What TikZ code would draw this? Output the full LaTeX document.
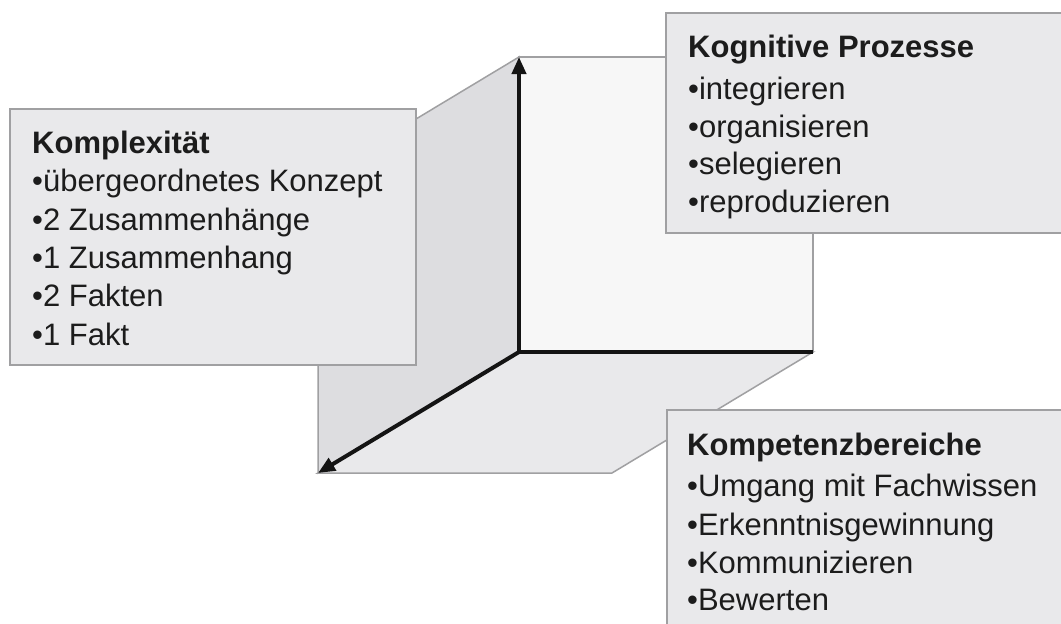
\documentclass[tikz,border=0pt]{standalone}
\usepackage{fontspec}
\setmainfont{Liberation Sans}
\usetikzlibrary{arrows.meta}
\definecolor{backwall}{RGB}{247,247,247}
\definecolor{leftwall}{RGB}{221,221,224}
\definecolor{floorface}{RGB}{233,233,235}
\definecolor{boxfill}{RGB}{233,233,235}
\definecolor{edgegray}{RGB}{160,160,162}
\definecolor{axisblack}{RGB}{20,20,20}
\definecolor{textblack}{RGB}{28,28,28}
\begin{document}
\begin{tikzpicture}[x=1pt,y=-1pt,
  face/.style={draw=edgegray,line width=1.5pt,line join=miter},
  infobox/.style={draw=edgegray,fill=boxfill,line width=1.8pt},
  axisline/.style={draw=axisblack,line width=4pt},
  tip/.style={-{Triangle[length=17pt,width=14pt]}},
  itemtext/.style={anchor=base west,inner sep=0pt,text=textblack,font=\fontsize{31}{37}\selectfont},
  headtext/.style={itemtext,font=\fontsize{31}{37}\selectfont\bfseries}]
\useasboundingbox (0,0) rectangle (1061,624);
\clip (0,0) rectangle (1061,624);
\fill[white] (0,0) rectangle (1061,624);
% cube corner
\coordinate (O) at (519,352);
\coordinate (T) at (519,57);
\coordinate (TL) at (318,178);
\coordinate (L) at (318,473);
\coordinate (R) at (813,352);
\coordinate (TR) at (813,57);
\coordinate (FR) at (612,473);
\filldraw[face,fill=backwall] (T) -- (TR) -- (R) -- (O) -- cycle;
\filldraw[face,fill=leftwall] (T) -- (O) -- (L) -- (TL) -- cycle;
\filldraw[face,fill=floorface] (O) -- (R) -- (FR) -- (L) -- cycle;
% axes
\draw[axisline,tip] (R) -- (O) -- (T);
\draw[axisline,tip] (O) -- (L);
% boxes
\filldraw[infobox] (10,109) rectangle (416,365);
\filldraw[infobox] (666,13) rectangle (1080,233);
\filldraw[infobox] (667,410) rectangle (1080,640);
% Komplexitaet
\node[headtext] (k0) at (32,153) {Komplexität};
\node[itemtext] (k1) at (32,191.5) {•übergeordnetes Konzept};
\node[itemtext] (k2) at (32,230) {•2 Zusammenhänge};
\node[itemtext] (k3) at (32,268) {•1 Zusammenhang};
\node[itemtext] (k4) at (32,306.5) {•2 Fakten};
\node[itemtext] (k5) at (32,345) {•1 Fakt};
% Kognitive Prozesse
\node[headtext] (p0) at (688,57) {Kognitive Prozesse};
\node[itemtext] (p1) at (688,99) {•integrieren};
\node[itemtext] (p2) at (688,137) {•organisieren};
\node[itemtext] (p3) at (688,174.5) {•selegieren};
\node[itemtext] (p4) at (688,212) {•reproduzieren};
% Kompetenzbereiche
\node[headtext] (c0) at (687,455) {Kompetenzbereiche};
\node[itemtext] (c1) at (687,496.5) {•Umgang mit Fachwissen};
\node[itemtext] (c2) at (687,535) {•Erkenntnisgewinnung};
\node[itemtext] (c3) at (687,573) {•Kommunizieren};
\node[itemtext] (c4) at (687,610.5) {•Bewerten};
\end{tikzpicture}
\end{document}
